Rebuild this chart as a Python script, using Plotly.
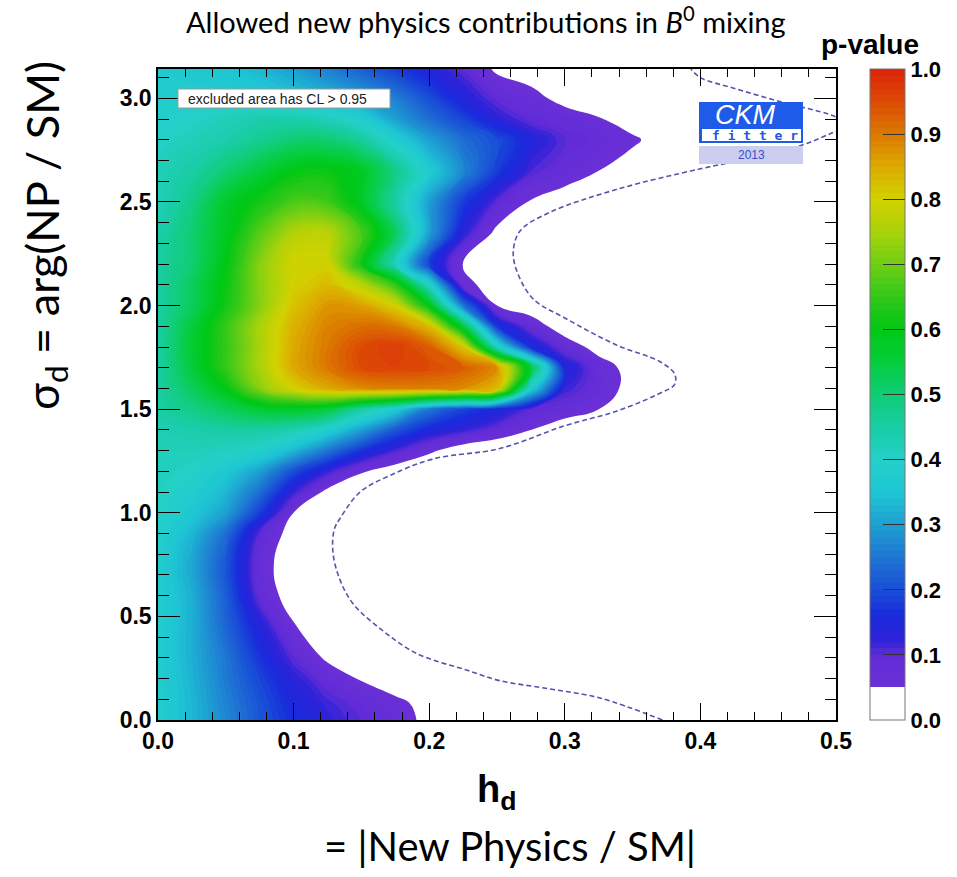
import plotly.graph_objects as go

# p-value surface: columns are h_d, rows are sigma_d
h_d = [0.0, 0.025, 0.05, 0.075, 0.1, 0.125, 0.15, 0.175, 0.2, 0.225,
       0.25, 0.275, 0.3, 0.325, 0.35, 0.375, 0.4, 0.45, 0.5]
sigma_d = [0.0, 0.08, 0.2, 0.3, 0.45, 0.6, 0.75, 0.9, 1.0, 1.1, 1.2, 1.3, 1.4,
           1.5, 1.6, 1.7, 1.8, 1.9, 2.0, 2.1, 2.2, 2.35, 2.5, 2.65, 2.8,
           2.9, 3.0, 3.1416]
p_value = [
    [0.38, 0.33, 0.27, 0.21, 0.16, 0.125, 0.10, 0.075, 0.035, 0.01, 0, 0, 0, 0, 0, 0, 0, 0, 0],
    [0.38, 0.33, 0.265, 0.205, 0.15, 0.115, 0.09, 0.065, 0.03, 0.01, 0, 0, 0, 0, 0, 0, 0, 0, 0],
    [0.38, 0.325, 0.255, 0.19, 0.13, 0.085, 0.045, 0.015, 0, 0, 0, 0, 0, 0, 0, 0, 0, 0, 0],
    [0.38, 0.32, 0.25, 0.17, 0.10, 0.04, 0.01, 0, 0, 0, 0, 0, 0, 0, 0, 0, 0, 0, 0],
    [0.38, 0.32, 0.23, 0.14, 0.055, 0.01, 0, 0, 0, 0, 0, 0, 0, 0, 0, 0, 0, 0, 0],
    [0.38, 0.32, 0.22, 0.09, 0.02, 0, 0, 0, 0, 0, 0, 0, 0, 0, 0, 0, 0, 0, 0],
    [0.38, 0.31, 0.21, 0.075, 0.015, 0, 0, 0, 0, 0, 0, 0, 0, 0, 0, 0, 0, 0, 0],
    [0.39, 0.33, 0.24, 0.10, 0.025, 0.005, 0, 0, 0, 0, 0, 0, 0, 0, 0, 0, 0, 0, 0],
    [0.40, 0.36, 0.30, 0.18, 0.05, 0.01, 0, 0, 0, 0, 0, 0, 0, 0, 0, 0, 0, 0, 0],
    [0.41, 0.38, 0.33, 0.24, 0.12, 0.035, 0.01, 0, 0, 0, 0, 0, 0, 0, 0, 0, 0, 0, 0],
    [0.42, 0.40, 0.36, 0.30, 0.20, 0.12, 0.055, 0.02, 0, 0, 0, 0, 0, 0, 0, 0, 0, 0, 0],
    [0.42, 0.42, 0.41, 0.39, 0.33, 0.25, 0.17, 0.11, 0.06, 0.02, 0, 0, 0, 0, 0, 0, 0, 0, 0],
    [0.43, 0.44, 0.45, 0.45, 0.43, 0.38, 0.30, 0.21, 0.15, 0.12, 0.09, 0.05, 0.02, 0, 0, 0, 0, 0, 0],
    [0.45, 0.48, 0.52, 0.56, 0.57, 0.55, 0.45, 0.37, 0.25, 0.19, 0.15, 0.10, 0.075, 0.05, 0.02, 0, 0, 0, 0],
    [0.45, 0.52, 0.60, 0.72, 0.80, 0.85, 0.88, 0.89, 0.89, 0.88, 0.83, 0.38, 0.12, 0.08, 0.03, 0.01, 0, 0, 0],
    [0.45, 0.55, 0.65, 0.75, 0.85, 0.90, 0.95, 0.96, 0.95, 0.93, 0.88, 0.55, 0.15, 0.075, 0.03, 0.01, 0, 0, 0],
    [0.45, 0.56, 0.65, 0.75, 0.85, 0.90, 0.95, 0.97, 0.93, 0.82, 0.42, 0.16, 0.08, 0.03, 0.01, 0, 0, 0, 0],
    [0.45, 0.55, 0.65, 0.75, 0.84, 0.89, 0.91, 0.90, 0.83, 0.55, 0.17, 0.08, 0.02, 0.01, 0, 0, 0, 0, 0],
    [0.45, 0.52, 0.62, 0.72, 0.82, 0.87, 0.86, 0.80, 0.60, 0.25, 0.05, 0.02, 0.01, 0, 0, 0, 0, 0, 0],
    [0.45, 0.52, 0.61, 0.72, 0.80, 0.83, 0.77, 0.65, 0.40, 0.07, 0.02, 0.01, 0, 0, 0, 0, 0, 0, 0],
    [0.45, 0.50, 0.60, 0.72, 0.80, 0.80, 0.62, 0.42, 0.18, 0.045, 0.02, 0.01, 0, 0, 0, 0, 0, 0, 0],
    [0.44, 0.50, 0.58, 0.68, 0.76, 0.77, 0.67, 0.52, 0.30, 0.13, 0.035, 0.015, 0, 0, 0, 0, 0, 0, 0],
    [0.42, 0.48, 0.57, 0.62, 0.67, 0.66, 0.58, 0.45, 0.30, 0.18, 0.10, 0.045, 0.02, 0, 0, 0, 0, 0, 0],
    [0.42, 0.45, 0.50, 0.55, 0.60, 0.61, 0.58, 0.48, 0.37, 0.27, 0.18, 0.11, 0.08, 0.05, 0.02, 0, 0, 0, 0],
    [0.40, 0.42, 0.44, 0.47, 0.50, 0.50, 0.46, 0.38, 0.30, 0.24, 0.20, 0.14, 0.10, 0.085, 0.06, 0.02, 0, 0, 0],
    [0.39, 0.40, 0.42, 0.44, 0.44, 0.42, 0.38, 0.30, 0.24, 0.19, 0.13, 0.095, 0.08, 0.055, 0.02, 0, 0, 0, 0],
    [0.38, 0.38, 0.38, 0.37, 0.35, 0.33, 0.30, 0.26, 0.20, 0.14, 0.095, 0.07, 0.03, 0.01, 0, 0, 0, 0, 0],
    [0.37, 0.36, 0.35, 0.33, 0.30, 0.26, 0.22, 0.18, 0.14, 0.10, 0.04, 0.02, 0, 0, 0, 0, 0, 0, 0],
]

# dashed reference contour (h_d, sigma_d)
dash_h = [0.372, 0.326, 0.289, 0.252, 0.228, 0.191, 0.166, 0.144, 0.134, 0.129,
          0.130, 0.134, 0.149, 0.171, 0.203, 0.252, 0.300, 0.338, 0.368, 0.381,
          0.381, 0.370, 0.338, 0.300, 0.277, 0.265, 0.262, 0.267, 0.289, 0.338,
          0.400, 0.437, 0.473, 0.496, 0.510, 0.496, 0.461, 0.424, 0.400, 0.393]
dash_sigma = [0.0, 0.106, 0.15, 0.19, 0.24, 0.32, 0.43, 0.56, 0.68, 0.81,
              0.92, 0.97, 1.10, 1.18, 1.26, 1.31, 1.42, 1.49, 1.57, 1.62,
              1.67, 1.73, 1.81, 1.94, 2.03, 2.16, 2.26, 2.36, 2.45, 2.56,
              2.66, 2.71, 2.77, 2.83, 2.875, 2.92, 2.98, 3.05, 3.10, 3.1416]

x_ticks = [0.0, 0.1, 0.2, 0.3, 0.4, 0.5]
x_labels = ["0.0", "0.1", "0.2", "0.3", "0.4", "0.5"]
y_ticks = [0.0, 0.5, 1.0, 1.5, 2.0, 2.5, 3.0]
y_labels = ["0.0", "0.5", "1.0", "1.5", "2.0", "2.5", "3.0"]
cbar_ticks = [0.0, 0.1, 0.2, 0.3, 0.4, 0.5, 0.6, 0.7, 0.8, 0.9, 1.0]
cbar_labels = ["0.0", "0.1", "0.2", "0.3", "0.4", "0.5", "0.6", "0.7", "0.8", "0.9", "1.0"]

W, H = 957, 877
L, R, T, B = 158, 121, 69, 157
PW, PH = W - L - R, H - T - B


def fx(px):
    return (px - L) / PW


def fy(py):
    return (H - B - py) / PH


rainbow = [
    [0.0, "rgb(255,255,255)"], [0.054, "rgb(255,255,255)"],
    [0.054, "rgb(106,48,214)"], [0.10, "rgb(96,44,215)"],
    [0.12, "rgb(48,34,216)"], [0.16, "rgb(25,42,220)"],
    [0.20, "rgb(25,78,215)"], [0.25, "rgb(30,118,210)"],
    [0.30, "rgb(30,160,210)"], [0.35, "rgb(30,198,212)"],
    [0.40, "rgb(35,208,200)"], [0.45, "rgb(25,205,165)"],
    [0.50, "rgb(15,205,115)"], [0.55, "rgb(5,205,60)"],
    [0.60, "rgb(0,200,20)"], [0.65, "rgb(50,200,25)"],
    [0.70, "rgb(110,205,20)"], [0.75, "rgb(170,210,10)"],
    [0.80, "rgb(210,210,0)"], [0.85, "rgb(220,170,0)"],
    [0.90, "rgb(220,120,0)"], [0.95, "rgb(220,75,5)"],
    [1.0, "rgb(220,35,10)"],
]

fig = go.Figure()
fig.add_trace(go.Contour(
    x=h_d, y=sigma_d, z=p_value, zmin=0, zmax=1,
    colorscale=rainbow,
    contours=dict(start=0, end=1.0, size=0.01, coloring="fill", showlines=False),
    line=dict(width=0, smoothing=1.3),
    colorbar=dict(
        thickness=35, thicknessmode="pixels", len=PH, lenmode="pixels",
        x=fx(870), xanchor="left", xpad=0, y=0, yanchor="bottom", ypad=0,
        tickmode="array", tickvals=cbar_ticks, ticktext=cbar_labels,
        ticks="inside", ticklen=22, tickwidth=1.2, tickcolor="#333333",
        tickfont=dict(family="Liberation Sans", size=22, color="black", weight="bold"),
        outlinecolor="#777777", outlinewidth=1,
    ),
    hoverinfo="skip",
))

fig.add_trace(go.Scatter(
    x=dash_h, y=dash_sigma, mode="lines",
    line=dict(color="#5454ae", width=1.6, dash="5px,3px", shape="spline"),
    showlegend=False, hoverinfo="skip",
))

axis_common = dict(
    showgrid=False, zeroline=False, showline=True, mirror="allticks",
    linecolor="black", linewidth=1.5, ticks="inside", tickcolor="black",
    tickfont=dict(family="Liberation Sans", size=23, color="black", weight="bold"),
    tickmode="array",
)

fig.update_layout(
    width=W, height=H,
    margin=dict(l=L, r=R, t=T, b=B, autoexpand=False),
    paper_bgcolor="white", plot_bgcolor="white",
    showlegend=False,
    xaxis=dict(range=[0, 0.5], tickvals=x_ticks, ticktext=x_labels,
               ticklen=17, tickwidth=1.3,
               minor=dict(tick0=0, dtick=0.02, ticks="inside", ticklen=8,
                          tickwidth=1, tickcolor="black", showgrid=False),
               **axis_common),
    yaxis=dict(range=[0, 3.1416], tickvals=y_ticks, ticktext=y_labels,
               ticklen=22, tickwidth=1.3,
               minor=dict(tick0=0, dtick=0.1, ticks="inside", ticklen=11,
                          tickwidth=1, tickcolor="black", showgrid=False),
               **axis_common),
)

annotations = [
    dict(text="Allowed new physics contributions in <i>B</i><sup>0</sup> mixing",
         x=fx(486), y=fy(20), font=dict(family="Lato", size=29, color="black")),
    dict(text="σ<sub>d</sub> = arg(NP / SM)", textangle=-90,
         x=fx(45), y=fy(236), font=dict(family="Lato", size=45, color="black")),
    dict(text="<b>h<sub>d</sub></b>",
         x=fx(496), y=fy(792), font=dict(family="Liberation Sans", size=38, color="black")),
    dict(text="= |New Physics / SM|",
         x=fx(510), y=fy(846), font=dict(family="Lato", size=40, color="black")),
    dict(text="<b>p-value</b>",
         x=fx(870), y=fy(45), font=dict(family="Liberation Sans", size=28, color="black")),
    dict(text="excluded area has CL > 0.95", xanchor="left",
         x=fx(186), y=fy(98.5), font=dict(family="Liberation Sans", size=14, color="#222222")),
    dict(text="<i>CKM</i>",
         x=fx(745), y=fy(115), font=dict(family="Liberation Sans", size=27, color="white")),
    dict(text="<b>f i t t e r</b>", xanchor="right",
         x=fx(800), y=fy(135.5), font=dict(family="DejaVu Sans Mono", size=13, color="#1f55e0")),
    dict(text="2013",
         x=fx(751), y=fy(155), font=dict(family="Liberation Sans", size=12, color="#3a4fc8")),
]
for a in annotations:
    a.setdefault("xanchor", "center")
    a.update(xref="paper", yref="paper", yanchor="middle", showarrow=False)
fig.update_layout(annotations=annotations)

shapes = [
    dict(type="rect", x0=fx(178), x1=fx(390), y0=fy(108), y1=fy(89),
         fillcolor="white", line=dict(color="#9a9a9a", width=1)),
    dict(type="rect", x0=fx(699), x1=fx(803), y0=fy(143), y1=fy(102),
         fillcolor="#1e5be8", line=dict(width=0)),
    dict(type="rect", x0=fx(702), x1=fx(801), y0=fy(141), y1=fy(129),
         fillcolor="white", line=dict(width=0)),
    dict(type="rect", x0=fx(699), x1=fx(803), y0=fy(164), y1=fy(146),
         fillcolor="#cdcdef", line=dict(width=0)),
]
for s in shapes:
    s.update(xref="paper", yref="paper", layer="above")
fig.update_layout(shapes=shapes)

fig.write_html("out.html")
